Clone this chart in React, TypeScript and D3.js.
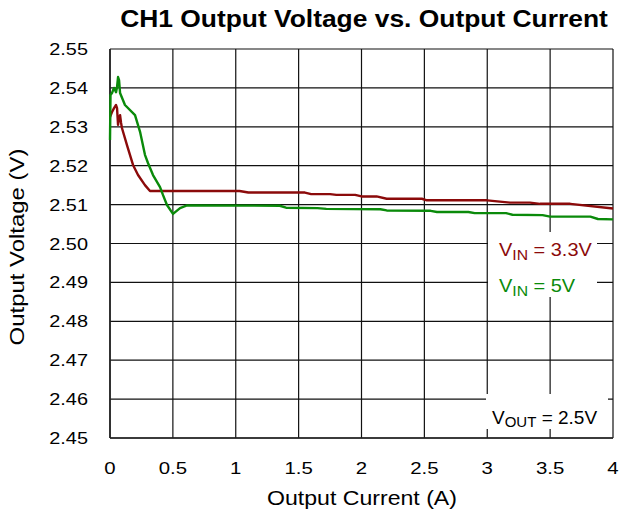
import React from "react";
import * as d3 from "d3";

const xTicks = [0, 0.5, 1, 1.5, 2, 2.5, 3, 3.5, 4];
const xTickLabels = ["0", "0.5", "1", "1.5", "2", "2.5", "3", "3.5", "4"];
const yTicks = [2.45, 2.46, 2.47, 2.48, 2.49, 2.5, 2.51, 2.52, 2.53, 2.54, 2.55];
const yTickLabels = ["2.45", "2.46", "2.47", "2.48", "2.49", "2.50", "2.51", "2.52", "2.53", "2.54", "2.55"];

const currentVin33 = [0, 0.016, 0.032, 0.048, 0.056, 0.064, 0.072, 0.08, 0.088, 0.095, 0.135, 0.183, 0.223, 0.278, 0.318, 0.35, 1.03, 1.1, 1.55, 1.6, 1.75, 1.8, 1.95, 2.0, 2.12, 2.2, 2.48, 2.52, 3.0, 3.18, 3.34, 3.42, 3.66, 4.0];
const voltVin33 = [2.5325, 2.5338, 2.5348, 2.5356, 2.5348, 2.5305, 2.5323, 2.533, 2.531, 2.5297, 2.5253, 2.5202, 2.5176, 2.515, 2.5135, 2.5135, 2.5135, 2.5131, 2.5131, 2.5127, 2.5127, 2.5125, 2.5125, 2.5121, 2.5121, 2.5115, 2.5115, 2.5111, 2.5111, 2.5105, 2.5105, 2.5102, 2.5102, 2.509];

const currentVin5 = [0, 0.004, 0.016, 0.032, 0.048, 0.056, 0.064, 0.072, 0.08, 0.119, 0.199, 0.239, 0.278, 0.302, 0.342, 0.398, 0.421, 0.453, 0.501, 0.557, 0.612, 1.35, 1.4, 1.65, 1.72, 2.15, 2.2, 2.55, 2.6, 2.85, 2.9, 3.15, 3.2, 3.44, 3.5, 3.82, 3.88, 4.0];
const voltVin5 = [2.5266, 2.5382, 2.5387, 2.54, 2.5389, 2.5402, 2.5428, 2.542, 2.5387, 2.5356, 2.533, 2.5287, 2.5228, 2.5207, 2.5176, 2.5145, 2.5125, 2.5099, 2.5076, 2.5091, 2.5098, 2.5097, 2.5092, 2.5091, 2.5089, 2.5088, 2.5085, 2.5084, 2.5081, 2.5081, 2.5078, 2.5078, 2.5074, 2.5073, 2.5069, 2.5069, 2.5063, 2.5062];

const W = 622;
const H = 519;
const L = 110, R = 613, T = 49, B = 438;
const RED = "#8b0a0a";
const GREEN = "#0a8a0a";
const FONT = "'Liberation Sans', Arial, sans-serif";

function SText({ x, y, sx = 1.15, size, anchor = "middle", weight = "normal", fill = "#000", children, rotate = 0 }: any) {
  return (
    <g transform={`translate(${x},${y}) rotate(${rotate}) scale(${sx},1)`}>
      <text x={0} y={0} textAnchor={anchor} fontSize={size} fontWeight={weight} fill={fill} fontFamily={FONT}>
        {children}
      </text>
    </g>
  );
}

export default function App() {
  const x = d3.scaleLinear().domain([0, 4]).range([L, R]);
  const y = d3.scaleLinear().domain([2.45, 2.55]).range([B, T]);
  const line = d3
    .line<[number, number]>()
    .x((d) => x(d[0]))
    .y((d) => y(d[1]));
  const red: [number, number][] = currentVin33.map((c, i) => [c, voltVin33[i]]);
  const green: [number, number][] = currentVin5.map((c, i) => [c, voltVin5[i]]);

  return (
    <svg width={W} height={H} style={{ position: "absolute", left: 0, top: 0, background: "#fff" }}>
      <rect x={0} y={0} width={W} height={H} fill="#fff" />
      <SText x={364} y={27} size={24} weight="bold" sx={1.1}>CH1 Output Voltage vs. Output Current</SText>
      {yTicks.map((t) => (
        <line key={"h" + t} x1={L} x2={R} y1={y(t)} y2={y(t)} stroke="#111" strokeWidth={1.2} />
      ))}
      {xTicks.map((t) => (
        <line key={"v" + t} x1={x(t)} x2={x(t)} y1={T} y2={B} stroke="#111" strokeWidth={1.2} />
      ))}
      <line x1={L} x2={L} y1={T} y2={B} stroke="#222" strokeWidth={1.6} />
      <line x1={L} x2={R} y1={B} y2={B} stroke="#222" strokeWidth={1.6} />
      {yTicks.map((t, i) => (
        <SText key={"yl" + t} x={88} y={y(t) + 6} size={17} anchor="end" sx={1.17}>{yTickLabels[i]}</SText>
      ))}
      {xTicks.map((t, i) => (
        <SText key={"xl" + t} x={x(t)} y={474} size={17} sx={1.2}>{xTickLabels[i]}</SText>
      ))}
      <SText x={362} y={505} size={20} sx={1.155}>Output Current (A)</SText>
      <SText x={24} y={247} size={21} sx={1.14} rotate={-90}>Output Voltage (V)</SText>

      <rect x={488} y={232} width={109} height={65} fill="#fff" />
      <rect x={486} y={394} width={122} height={35} fill="#fff" />

      <path d={line(red) || ""} fill="none" stroke={RED} strokeWidth={2.4} strokeLinejoin="round" />
      <path d={line(green) || ""} fill="none" stroke={GREEN} strokeWidth={2.4} strokeLinejoin="round" />

      <SText x={499} y={256} size={19} anchor="start" fill={RED} sx={1.05}>
        V<tspan fontSize={15} dy={4}>IN</tspan><tspan dy={-4}> = 3.3V</tspan>
      </SText>
      <SText x={499} y={292} size={19} anchor="start" fill={GREEN} sx={1.05}>
        V<tspan fontSize={15} dy={4}>IN</tspan><tspan dy={-4}> = 5V</tspan>
      </SText>
      <SText x={492} y={424} size={19} anchor="start" sx={1.0}>
        V<tspan fontSize={15} dy={3}>OUT</tspan><tspan dy={-3}> = 2.5V</tspan>
      </SText>
    </svg>
  );
}
